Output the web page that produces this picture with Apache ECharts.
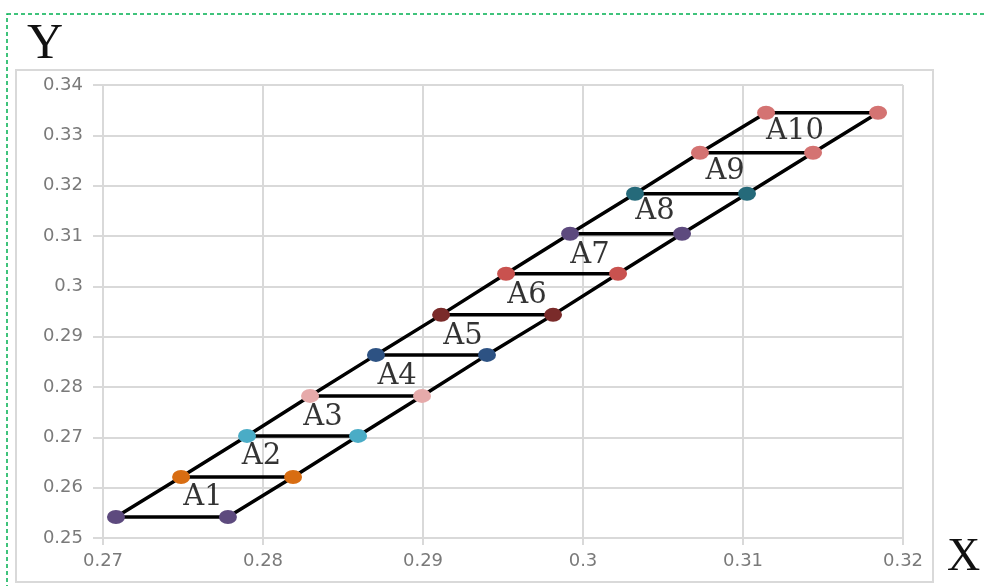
<!DOCTYPE html>
<html>
<head>
<meta charset="utf-8">
<script src="https://cdn.jsdelivr.net/npm/echarts@6/dist/echarts.min.js"></script>
<style>
html,body{margin:0;padding:0;background:#fff;}
#chart{width:984px;height:586px;}
</style>
</head>
<body>
<div id="chart"></div>
<script>
// Level heights (Y) and the X of the left / right point on each level
const levelY = [0.25417, 0.26213, 0.27028, 0.27823, 0.28638, 0.29433, 0.30249, 0.31044, 0.31839, 0.32654, 0.33449];
const leftX  = [0.27081, 0.27488, 0.27900, 0.28294, 0.28706, 0.29113, 0.29519, 0.29919, 0.30325, 0.30731, 0.31144];
const rightX = [0.27781, 0.28188, 0.28594, 0.28994, 0.29400, 0.29813, 0.30219, 0.30619, 0.31025, 0.31438, 0.31844];
const pointColors = ['#5d4a7e', '#d86d12', '#4aacc6', '#e6aaaa', '#2d5283', '#7a2b2a', '#c9524f', '#5d4a7e', '#256a7a', '#d47372', '#d47372'];
// Region labels
const labelNames = ['A1', 'A2', 'A3', 'A4', 'A5', 'A6', 'A7', 'A8', 'A9', 'A10'];
const labelX = [0.27625, 0.27990, 0.28375, 0.28838, 0.29250, 0.29650, 0.30044, 0.30450, 0.30888, 0.31325];
const labelY = [0.25815, 0.26610, 0.27386, 0.28201, 0.28996, 0.29811, 0.30606, 0.31481, 0.32276, 0.33072];
// Axis ticks
const xTicks = [0.27, 0.28, 0.29, 0.30, 0.31, 0.32];
const yTicks = [0.25, 0.26, 0.27, 0.28, 0.29, 0.30, 0.31, 0.32, 0.33, 0.34];

const chart = echarts.init(document.getElementById('chart'), null, {renderer: 'canvas'});
const gridColor = '#d9d9d9';
const tickFont = {color: '#7a7a7a', fontSize: 18, fontFamily: 'DejaVu Sans'};

const series = [];
series.push({
  type: 'line', name: 'left', data: levelY.map((y, i) => [leftX[i], y]),
  showSymbol: false, symbol: 'none', lineStyle: {color: '#000', width: 3.5}, z: 2, silent: true
});
series.push({
  type: 'line', name: 'right', data: levelY.map((y, i) => [rightX[i], y]),
  showSymbol: false, symbol: 'none', lineStyle: {color: '#000', width: 3.5}, z: 2, silent: true
});
levelY.forEach((y, i) => {
  series.push({
    type: 'line', name: 'L' + i,
    data: [[leftX[i], y], [rightX[i], y]],
    symbol: 'circle', symbolSize: [18, 14], showSymbol: true,
    itemStyle: {color: pointColors[i]},
    lineStyle: {color: '#000', width: 3.5},
    z: 3, silent: true
  });
});
series.push({
  type: 'scatter', name: 'labels',
  data: labelNames.map((n, i) => ({name: n, value: [labelX[i], labelY[i]]})),
  symbolSize: 1, itemStyle: {color: 'rgba(0,0,0,0)'},
  label: {show: true, position: 'inside', formatter: p => p.name,
    color: '#000', fontSize: 29, fontFamily: 'DejaVu Serif'},
  z: 4, silent: true
});

chart.setOption({
  animation: false,
  backgroundColor: '#fff',
  grid: {left: 103, right: 81, top: 85, bottom: 48, containLabel: false},
  xAxis: {
    type: 'value', min: xTicks[0], max: xTicks[xTicks.length - 1], interval: 0.01,
    axisLine: {show: true, lineStyle: {color: gridColor, width: 2}},
    axisTick: {show: true, length: 7, lineStyle: {color: gridColor, width: 2}},
    splitLine: {show: true, lineStyle: {color: gridColor, width: 2}},
    axisLabel: Object.assign({margin: 14}, tickFont)
  },
  yAxis: {
    type: 'value', min: yTicks[0], max: yTicks[yTicks.length - 1], interval: 0.01,
    axisLine: {show: true, lineStyle: {color: gridColor, width: 2}},
    axisTick: {show: true, length: 10, lineStyle: {color: gridColor, width: 2}},
    splitLine: {show: true, lineStyle: {color: gridColor, width: 2}},
    axisLabel: Object.assign({margin: 20}, tickFont)
  },
  graphic: [
    {type: 'rect', shape: {x: 7, y: 14, width: 1000, height: 600}, silent: true,
      style: {fill: 'none', stroke: '#00b050', lineWidth: 1.5, lineDash: [4, 3]}, z: -10},
    {type: 'rect', shape: {x: 16, y: 70, width: 917, height: 512}, silent: true,
      style: {fill: 'none', stroke: gridColor, lineWidth: 2}, z: -9},
    {type: 'text', left: 27, top: 20, silent: true,
      style: {text: 'Y', fontSize: 50, fontFamily: 'Liberation Serif', fill: '#111'}},
    {type: 'text', left: 947, top: 535, silent: true,
      style: {text: 'X', fontSize: 46, fontFamily: 'Liberation Serif', fill: '#111'}}
  ],
  series: series
});
</script>
</body>
</html>
